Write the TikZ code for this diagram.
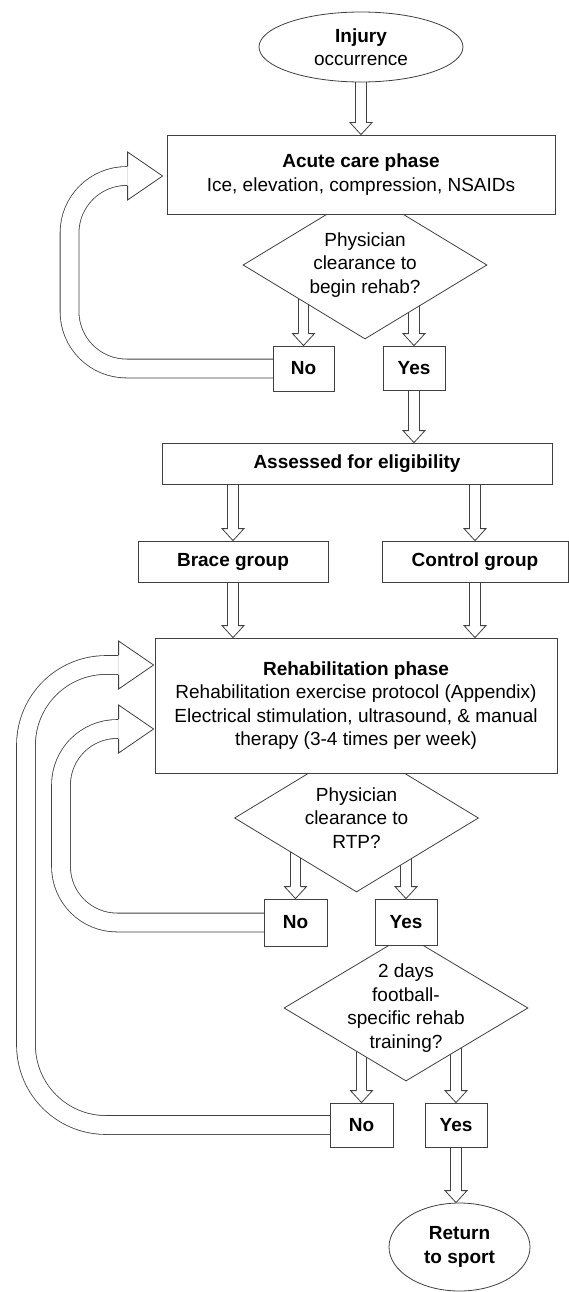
\documentclass[tikz,border=0pt]{standalone}
\usepackage{fontspec}
\setmainfont{Liberation Sans}
\usetikzlibrary{shapes.geometric, calc}
\pgfdeclarelayer{back}
\pgfsetlayers{back,main}
\newcommand{\labfont}{\fontsize{19}{23.5}\selectfont}
\tikzset{
  every node/.style={font=\labfont, align=center, inner sep=0pt},
  stepbox/.style={rectangle, draw=black!75, line width=0.8pt, fill=white},
  ovalbox/.style={ellipse, draw=black!75, line width=0.8pt, fill=white},
  choice/.style={stepbox, minimum width=62pt, minimum height=45pt, font=\labfont\bfseries},
  decision/.style={diamond, draw=black!75, line width=0.8pt, fill=white, aspect=1.65, minimum width=244pt, minimum height=148pt},
  shaftline/.style={draw=black!75, line width=0.8pt},
  loopshaft/.style={draw=black!75, line width=0.8pt, double=white, double distance=18pt},
  arrhead/.style={draw=black!75, fill=white, line width=0.8pt, line join=miter}
}
% straight block arrow, pointing down
\newcommand{\downarrowblk}[2]{%
  \draw[shaftline] ($(#1)+(-5.2,0)$) -- ($(#2)+(-5.2,-12)$) ($(#1)+(5.2,0)$) -- ($(#2)+(5.2,-12)$);
  \filldraw[arrhead] ($(#2)+(-5.2,-12)$) -- ++(-5.8,0) -- (#2) -- ++(11,-12) -- ++(-5.8,0);
}
% bent block arrow going back up on the left
\newcommand{\loopblk}[4]{%
  \draw[loopshaft, rounded corners=#4] (#1) -| (#2 |- #3) -- ($(#3)+(-35,0)$);
  \filldraw[arrhead] ($(#3)+(-35,-9.8)$) -- ++(0,-14.2) -- (#3) -- ++(-35,24) -- ++(0,-14.2);
}
\begin{document}
\begin{tikzpicture}[x=1pt, y=-1pt]
\useasboundingbox (0,0) rectangle (569,1292);

% decisions
\node[decision] (dec1) at (365,265) {};
\node[decision] (dec2) at (356.5,818) {};
\node[decision, minimum height=146pt] (dec3) at (406,1008) {};
\node (q1) at (dec1) {Physician\\clearance to\\begin rehab?};
\node (q2) at (dec2) {Physician\\clearance to\\RTP?};
\node (q3) at (dec3) {2 days\\football-\\specific rehab\\training?};

% boxes
\node[ovalbox, minimum width=204pt, minimum height=70pt] (inj) at (361,47) {\textbf{Injury}\\occurrence};
\node[stepbox, minimum width=388pt, minimum height=79pt] (acute) at (361,174.5) {\textbf{Acute care phase}\\Ice, elevation, compression, NSAIDs};
\node[choice, minimum width=61pt] (no1) at (303.5,368.5) {No};
\node[choice, minimum height=44pt] (yes1) at (414,368) {Yes};
\node[stepbox, minimum width=390pt, minimum height=41pt, font=\labfont\bfseries] (assess) at (357,463.5) {Assessed for eligibility};
\node[stepbox, minimum width=190pt, minimum height=41pt, font=\labfont\bfseries] (brace) at (233,561.5) {Brace group};
\node[stepbox, minimum width=186pt, minimum height=41pt, font=\labfont\bfseries] (control) at (475,561.5) {Control group};
\node[stepbox, minimum width=402pt, minimum height=135pt] (rehab) at (356,705.5) {\textbf{Rehabilitation phase}\\Rehabilitation exercise protocol (Appendix)\\Electrical stimulation, ultrasound, \& manual\\therapy (3-4 times per week)};
\node[choice, minimum width=63pt, minimum height=47pt] (no2) at (295.5,922.5) {No};
\node[choice, minimum height=46pt] (yes2) at (406,922) {Yes};
\node[choice, minimum width=63pt, minimum height=44pt] (no3) at (361.5,1125) {No};
\node[choice, minimum height=44pt] (yes3) at (456,1125) {Yes};
\node[ovalbox, minimum width=141pt, minimum height=88pt, font=\labfont\bfseries] (ret) at (459.5,1247) {Return\\to sport};

\coordinate (lp1) at (69.5,0);
\coordinate (lp2) at (61,0);
\coordinate (lp3) at (26,0);
\coordinate (a1) at ($(acute.west)+(-4,1.5)$);
\coordinate (rtop) at ($(rehab.west)+(-1,-40.5)$);
\coordinate (rlow) at ($(rehab.west)+(-1,23.5)$);

% connectors
\begin{pgfonlayer}{back}
\downarrowblk{inj.south}{acute.north}
\downarrowblk{dec1.center -| no1.north}{no1.north}
\downarrowblk{dec1.center -| yes1.north}{yes1.north}
\downarrowblk{yes1.south}{yes1.south |- assess.north}
\downarrowblk{assess.south -| brace.north}{brace.north}
\downarrowblk{assess.south -| control.north}{control.north}
\downarrowblk{brace.south}{brace.south |- rehab.north}
\downarrowblk{control.south}{control.south |- rehab.north}
\downarrowblk{dec2.center -| no2.north}{no2.north}
\downarrowblk{dec2.center -| yes2.north}{yes2.north}
\downarrowblk{dec3.center -| no3.north}{no3.north}
\downarrowblk{dec3.center -| yes3.north}{yes3.north}
\downarrowblk{yes3.south}{yes3.south |- ret.north}
\loopblk{no1.center}{lp1}{a1}{57pt}
\loopblk{no2.center}{lp2}{rlow}{56pt}
\loopblk{no3.center}{lp3}{rtop}{80pt}
\end{pgfonlayer}
\end{tikzpicture}
\end{document}
